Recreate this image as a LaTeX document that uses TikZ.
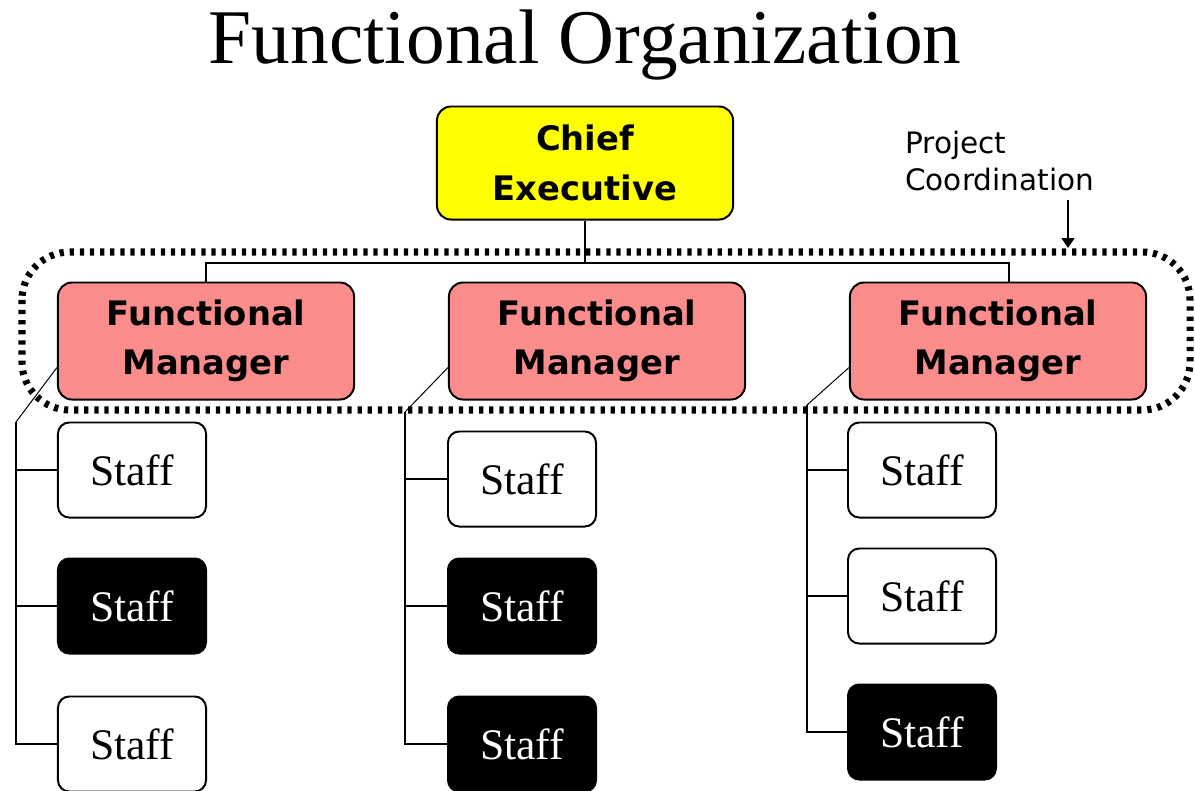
\documentclass[tikz,border=0pt]{standalone}
\usepackage{fontspec}
\setmainfont{Liberation Serif}
\newfontfamily\boxfont{DejaVu Sans}
\usetikzlibrary{calc,arrows.meta}
\definecolor{mgrpink}{RGB}{250,140,140}
\definecolor{chiefyellow}{RGB}{255,255,0}

\begin{document}
\begin{tikzpicture}[x=0.025cm,y=-0.025cm,
    conn/.style={line width=1.4pt},
    diag/.style={line width=0.7pt},
    box/.style={draw,line width=1.4pt,align=center,inner sep=0pt,font=\boxfont\bfseries\fontsize{24}{35}\selectfont},
    mgr/.style={box,rounded corners=10pt,fill=mgrpink,minimum width=7.4cm,minimum height=2.925cm},
    chiefbox/.style={box,rounded corners=10pt,fill=chiefyellow,minimum width=7.4cm,minimum height=2.825cm},
    staffw/.style={draw,line width=1.4pt,rounded corners=8pt,fill=white,minimum width=3.7cm,minimum height=2.375cm,font=\fontsize{31}{36}\selectfont},
    staffb/.style={staffw,fill=black,text=white},
    dotline/.style={line width=5pt,dash pattern=on 3pt off 4.2pt,rounded corners=34pt}]
      \useasboundingbox (0,0) rectangle (1195,790);
      \node[font=\fontsize{55}{62}\selectfont,anchor=base] (title) at (585,63) {Functional Organization};
      \draw[dotline] (22,252) rectangle (1190,410);
      \node[chiefbox] (chief) at (585,163) {Chief\\Executive};
      \foreach \m/\x in {1/206,2/597,3/998} \node[mgr] (fm\m) at (\x,341) {Functional\\Manager};
      \coordinate (bus) at (0,263);
      \draw[conn] (chief) -- (chief |- bus);
      \draw[conn] (fm1.north) |- ([shift={(11,0)}]fm3.north |- bus) -- ([shift={(11,0)}]fm3.north);
      %    staff columns
      \foreach \n/\x/\y/\s in {s11/132/470/staffw,s12/132/606/staffb,s13/132/744/staffw,
                               s21/522/479/staffw,s22/522/606/staffb,s23/522/744/staffb,
                               s31/922/470/staffw,s32/922/596/staffw,s33/922/732/staffb}
        \node[\s] (\n) at (\x,\y) {Staff};
      \foreach \m/\tx/\ty in {1/16/422,2/405/412,3/807/405} {
        \coordinate (t\m) at (\tx,\ty);
        \draw[diag] ([shift={(0,-33)}]fm\m.south west) -- (t\m);
        \draw[conn] (t\m) |- (s\m3.west);
        \foreach \k in {1,2} \draw[conn] (t\m |- s\m\k.west) -- (s\m\k.west);
      }
      \node[font=\boxfont\fontsize{21}{26.5}\selectfont,align=left,inner sep=0pt,anchor=north west] (pc) at (905,131) {Project\\Coordination};
      \coordinate (pctip) at (1068,248);
      \draw[line width=1.4pt,-{Triangle[width=9pt,length=7pt]},shorten <=0.2cm] (pc.south -| pctip) -- (pctip);
    \end{tikzpicture}
\end{document}
